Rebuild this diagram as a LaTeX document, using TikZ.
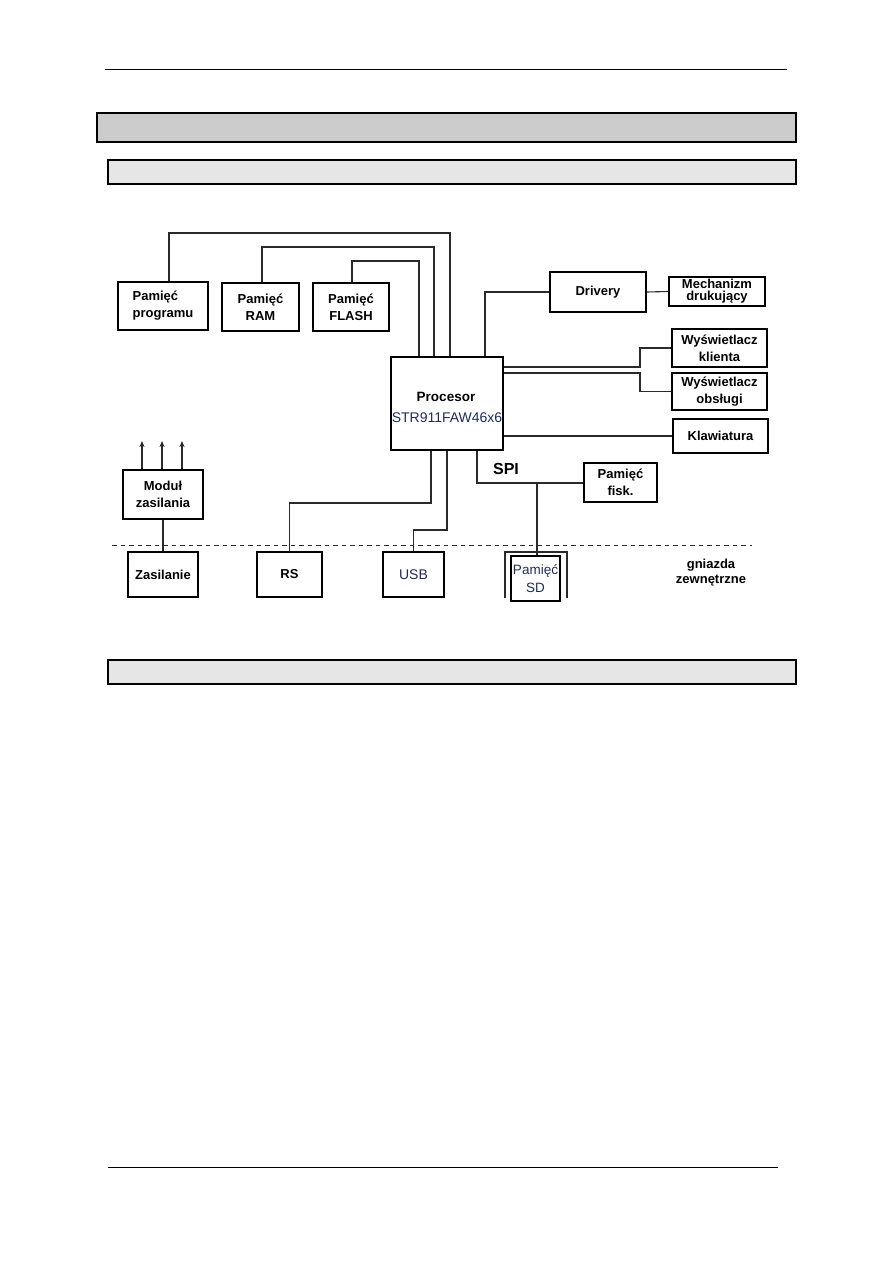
\documentclass[tikz,border=0pt]{standalone}
\usepackage{fontspec}
\setmainfont{Liberation Sans}
\usetikzlibrary{arrows.meta}
\definecolor{barA}{HTML}{CCCCCC}
\definecolor{barB}{HTML}{E6E6E6}
\definecolor{navy}{RGB}{31,45,84}
\definecolor{wire}{HTML}{2A2A2A}
\begin{document}
\begin{tikzpicture}[x=1pt,y=-1pt,
  box/.style={draw=black,line width=1.1pt,inner sep=0pt,align=center,
    font=\fontsize{13}{17}\selectfont\bfseries},
  navybox/.style={box,text=navy,font=\fontsize{14}{18}\selectfont},
  wireline/.style={draw=wire,line width=1.1pt},
  barline/.style={draw=black,line width=1.2pt}]
\useasboundingbox (0,0) rectangle (893,1263);
% page frame elements
\draw[line width=0.9pt] (105,69) -- (787,69);
\draw[line width=0.9pt] (108,1167) -- (778,1167);
\path[barline,fill=barA] (97,113) rectangle (796,142);
\path[barline,fill=barB] (108,160) rectangle (796,184);
\path[barline,fill=barB] (108,660) rectangle (796,684);

% boxes
\node[box,minimum width=90pt,minimum height=48pt,align=left] (prog) at (163,306) {Pamięć\\programu};
\node[box,minimum width=77pt,minimum height=48pt] (ram) at (260.5,307) {Pamięć\\RAM};
\node[box,minimum width=76pt,minimum height=48pt] (flash) at (351,307) {Pamięć\\FLASH};
\node[box,minimum width=112pt,minimum height=93pt] (proc) at (447,403.5) {};
\node[font=\fontsize{13.5}{16}\selectfont\bfseries] (proct) at (446,397) {Procesor};
\node[font=\fontsize{14}{16}\selectfont,text=navy] (procs) at (447,418) {STR911FAW46x6};
\node[box,minimum width=96pt,minimum height=40pt] (drv) at (598,292) {Drivery};
\node[box,minimum width=96pt,minimum height=29pt,font=\fontsize{13}{12}\selectfont\bfseries] (mech) at (717,291.5) {Mechanizm\\drukujący};
\node[box,minimum width=95pt,minimum height=38pt] (wk) at (719.5,348) {Wyświetlacz\\klienta};
\node[box,minimum width=95pt,minimum height=37pt] (wo) at (719.5,391.5) {Wyświetlacz\\obsługi};
\node[box,minimum width=95pt,minimum height=34pt] (kl) at (720.5,436) {Klawiatura};
\node[box,minimum width=80pt,minimum height=49pt] (mod) at (163,494.5) {Moduł\\zasilania};
\node[box,minimum width=70pt,minimum height=45pt] (zas) at (163,574.5) {Zasilanie};
\node[box,minimum width=65pt,minimum height=45pt] (rs) at (289.5,574.5) {RS};
\node[navybox,minimum width=61pt,minimum height=45pt] (usb) at (413.5,574.5) {USB};
\node[box,minimum width=73pt,minimum height=39pt] (fisk) at (620.5,482.5) {Pamięć\\fisk.};
\node[navybox,minimum width=49pt,minimum height=45pt,font=\fontsize{13.5}{18}\selectfont] (sd) at (535.5,578.5) {Pamięć\\SD};
\node[font=\fontsize{16}{16}\selectfont\bfseries] (spi) at (506,469) {SPI};
\node[align=center,font=\fontsize{13}{15}\selectfont\bfseries] (gz) at (711,573) {gniazda\\zewnętrzne};

% SD socket bracket
\draw[wireline] (505,598) -- (505,552) -- (567,552) -- (567,598);

% dashed boundary
\draw[wire,line width=1pt,dash pattern=on 4.5pt off 4pt] (112,545) -- (752,545);

% memory buses
\coordinate (b1) at (450,233);
\coordinate (b2) at (434,247);
\coordinate (b3) at (419,261);
\draw[wireline] (169,0 |- prog.north) |- (b1) -- (b1 |- proc.north);
\draw[wireline] (262,0 |- ram.north) |- (b2) -- (b2 |- proc.north);
\draw[wireline] (352,0 |- flash.north) |- (b3) -- (b3 |- proc.north);

% drivers
\coordinate (d1) at (485,292);
\draw[wireline] (d1 |- proc.north) -- (d1) -- (drv.west);
\draw[wireline] (drv.east) -- (mech.west);

% displays
\coordinate (wk1) at (640,367);
\coordinate (wo1) at (640,373);
\draw[wireline] (wk1 -| proc.east) -- (wk1) |- (wk.west);
\draw[wireline] (wo1 -| proc.east) -- (wo1) |- (wo.west);
\draw[wireline] (proc.east |- kl.west) -- (kl.west);

% bottom interfaces
\coordinate (r1) at (431,503);
\coordinate (u1) at (447,530);
\coordinate (s1) at (477,483);
\coordinate (j1) at (537,483);
\draw[wireline] (r1 |- proc.south) -- (r1) -| (rs.north);
\draw[wireline] (u1 |- proc.south) -- (u1) -| (usb.north);
\draw[wireline] (s1 |- proc.south) -- (s1) -- (s1 -| fisk.west);
\draw[wireline] (j1) -- (j1 |- sd.north);

% power
\draw[wireline] (mod.south) -- (zas.north);
\foreach \xx in {142,162,182}{
  \draw[wireline,-{Stealth[length=6pt,width=5pt]}] (\xx,0 |- mod.north) -- (\xx,441);
}
\end{tikzpicture}
\end{document}
